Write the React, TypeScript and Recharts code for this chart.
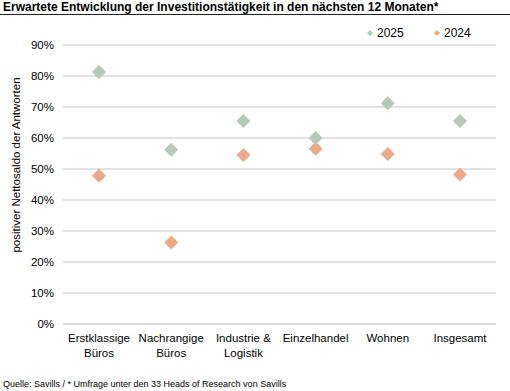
import React from 'react';
import { ComposedChart, Line, XAxis, YAxis, CartesianGrid } from 'recharts';

const categories = ['Erstklassige Büros', 'Nachrangige Büros', 'Industrie & Logistik', 'Einzelhandel', 'Wohnen', 'Insgesamt'];
const categoryLines = [['Erstklassige', 'Büros'], ['Nachrangige', 'Büros'], ['Industrie &', 'Logistik'], ['Einzelhandel'], ['Wohnen'], ['Insgesamt']];
const values2025 = [81.3, 56.2, 65.5, 60, 71.2, 65.5];
const values2024 = [47.8, 26.3, 54.5, 56.5, 54.8, 48.2];
const yTicks = [0, 10, 20, 30, 40, 50, 60, 70, 80, 90];

const GREEN = '#b5c9b9';
const ORANGE = '#eda987';
const FONT = '"Liberation Sans", Arial, sans-serif';

const data = categories.map((name, i) => ({
  name,
  v2025: values2025[i],
  v2024: values2024[i],
}));

const diamond = (color: string, r: number) => (props: any) => {
  const { cx, cy, index } = props;
  if (cx == null || cy == null) return <g key={index} />;
  return (
    <polygon
      key={index}
      points={`${cx},${cy - r} ${cx + r},${cy} ${cx},${cy + r} ${cx - r},${cy}`}
      fill={color}
    />
  );
};

const CategoryTick = (props: any) => {
  const { x, y, index } = props;
  const lines = categoryLines[index] || [];
  return (
    <text x={x} y={y} textAnchor="middle" fontSize={11.5} fill="#000" fontFamily={FONT}>
      {lines.map((l, i) => (
        <tspan key={i} x={x} dy={i === 0 ? 10 : 14.5}>{l}</tspan>
      ))}
    </text>
  );
};

export default function App() {
  return (
    <div style={{ position: 'absolute', left: 0, top: 0, width: 510, height: 391, background: '#fff', fontFamily: FONT }}>
      <div style={{ position: 'absolute', left: 3, top: 0, fontSize: 12, fontWeight: 'bold', color: '#000', whiteSpace: 'nowrap' }}>
        Erwartete Entwicklung der Investitionstätigkeit in den nächsten 12 Monaten*
      </div>
      <div style={{ position: 'absolute', left: 0, top: 14, width: 510, height: 1, background: '#222' }} />
      <ComposedChart
        width={510}
        height={391}
        data={data}
        margin={{ top: 45, right: 14, bottom: 37, left: 8 }}
      >
        <CartesianGrid vertical={false} stroke="#d9d9d9" strokeWidth={1.3} />
        <XAxis
          dataKey="name"
          axisLine={{ stroke: '#d9d9d9', strokeWidth: 1.3 }}
          tickLine={false}
          interval={0}
          height={30}
          padding={{ left: 36, right: 36 }}
          tick={<CategoryTick />}
        />
        <YAxis
          type="number"
          domain={[0, 90]}
          ticks={yTicks}
          width={55}
          axisLine={false}
          tickLine={false}
          tickSize={9}
          tickMargin={0}
          tickFormatter={(v: number) => `${v}%`}
          tick={{ fill: '#000', fontSize: 11.5, fontFamily: FONT }}
        />
        <Line dataKey="v2024" stroke="none" isAnimationActive={false} dot={diamond(ORANGE, 7)} activeDot={false} />
        <Line dataKey="v2025" stroke="none" isAnimationActive={false} dot={diamond(GREEN, 7)} activeDot={false} />
        <text x={16} y={165} transform="rotate(-90 16 165)" textAnchor="middle" dominantBaseline="central" fontSize={11.5} fontFamily={FONT} fill="#000">
          positiver Nettosaldo der Antworten
        </text>
        <polygon points="370,30 373,33 370,36 367,33" fill={GREEN} />
        <text x={377} y={33} dominantBaseline="central" fontSize={12} fontFamily={FONT} fill="#000">2025</text>
        <polygon points="437,30 440,33 437,36 434,33" fill={ORANGE} />
        <text x={444} y={33} dominantBaseline="central" fontSize={12} fontFamily={FONT} fill="#000">2024</text>
      </ComposedChart>
      <div style={{ position: 'absolute', left: 3, top: 379, fontSize: 9, color: '#000', whiteSpace: 'nowrap' }}>
        Quelle: Savills / * Umfrage unter den 33 Heads of Research von Savills
      </div>
    </div>
  );
}
